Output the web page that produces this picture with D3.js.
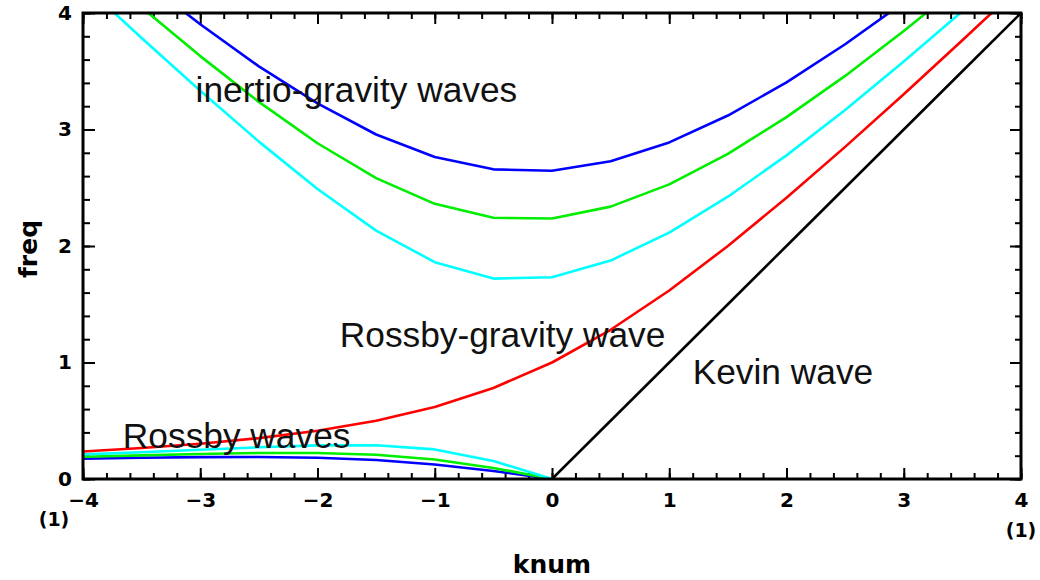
<!DOCTYPE html>
<html>
<head>
<meta charset="utf-8">
<script src="https://cdn.jsdelivr.net/npm/d3@7"></script>
<style>
  html, body { margin: 0; padding: 0; background: #fff; }
  svg { display: block; }
</style>
</head>
<body>
<svg id="chart" width="1040" height="580"></svg>
<script>
// ---- data ----
const knum = [-4, -3.5, -3, -2.5, -2, -1.5, -1, -0.5, 0, 0.5, 1, 1.5, 2, 2.5, 3, 3.5, 4];
// inertio-gravity waves n=1,2,3
const igN1 = [4.25, 3.785, 3.332, 2.896, 2.489, 2.132, 1.861, 1.72, 1.732, 1.875, 2.115, 2.423, 2.778, 3.168, 3.583, 4.015, 4.46];
const igN2 = [4.484, 4.048, 3.63, 3.237, 2.882, 2.583, 2.362, 2.242, 2.236, 2.338, 2.529, 2.791, 3.106, 3.46, 3.845, 4.251, 4.675];
const igN3 = [4.706, 4.294, 3.903, 3.542, 3.224, 2.957, 2.764, 2.658, 2.646, 2.727, 2.889, 3.12, 3.404, 3.732, 4.091, 4.475, 4.88];
// Rossby-gravity wave
const rgWave = [0.236, 0.266, 0.303, 0.351, 0.414, 0.5, 0.618, 0.781, 1.0, 1.281, 1.618, 2.0, 2.414, 2.851, 3.303, 3.766, 4.236];
// Rossby waves (k <= 0 only)
const knumR = [-4, -3.5, -3, -2.5, -2, -1.5, -1, -0.5, 0];
const rossN1 = [0.211, 0.230, 0.251, 0.272, 0.289, 0.290, 0.254, 0.155, 0];
const rossN2 = [0.191, 0.203, 0.215, 0.223, 0.223, 0.208, 0.167, 0.095, 0];
const rossN3 = [0.174, 0.182, 0.188, 0.189, 0.182, 0.163, 0.125, 0.069, 0];
// Kelvin wave
const knumK = [0, 0.5, 1, 1.5, 2, 2.5, 3, 3.5, 4];
const kelvin = [0, 0.5, 1, 1.5, 2, 2.5, 3, 3.5, 4];

const xMajor = [-4, -3, -2, -1, 0, 1, 2, 3, 4];
const yMajor = [0, 1, 2, 3, 4];
const xMinor = d3.range(-40, 41, 2).map(v => v / 10);
const yMinor = d3.range(0, 41, 2).map(v => v / 10);

const labels = [
  { text: "inertio-gravity waves", k: -3.04, f: 3.236 },
  { text: "Rossby-gravity wave", k: -1.81, f: 1.133 },
  { text: "Kevin wave", k: 1.2, f: 0.815 },
  { text: "Rossby waves", k: -3.66, f: 0.266 }
];

// ---- layout ----
const L = 83, R = 1021, T = 13, B = 479;
const svg = d3.select("#chart");
const x = d3.scaleLinear().domain([-4, 4]).range([L, R]);
const y = d3.scaleLinear().domain([0, 4]).range([B, T]);

svg.append("defs").append("clipPath").attr("id", "plotclip")
  .append("rect").attr("x", L).attr("y", T).attr("width", R - L).attr("height", B - T);

const tickFont = "'DejaVu Sans', sans-serif";

function styleAxis(g, labelsOn) {
  g.select(".domain").remove();
  g.selectAll(".tick line").attr("stroke", "#000").attr("stroke-width", 2);
  g.selectAll(".tick text")
    .attr("font-family", tickFont).attr("font-weight", "bold")
    .attr("font-size", 20).attr("fill", "#000");
  if (!labelsOn) g.selectAll(".tick text").remove();
}

// minor ticks
svg.append("g").attr("transform", `translate(0,${B})`)
  .call(d3.axisBottom(x).tickValues(xMinor).tickSize(-6).tickFormat(""))
  .call(g => styleAxis(g, false));
svg.append("g").attr("transform", `translate(0,${T})`)
  .call(d3.axisTop(x).tickValues(xMinor).tickSize(-6).tickFormat(""))
  .call(g => styleAxis(g, false));
svg.append("g").attr("transform", `translate(${L},0)`)
  .call(d3.axisLeft(y).tickValues(yMinor).tickSize(-7).tickFormat(""))
  .call(g => styleAxis(g, false));
svg.append("g").attr("transform", `translate(${R},0)`)
  .call(d3.axisRight(y).tickValues(yMinor).tickSize(-6).tickFormat(""))
  .call(g => styleAxis(g, false));

// major ticks
svg.append("g").attr("transform", `translate(0,${B})`)
  .call(d3.axisBottom(x).tickValues(xMajor).tickSize(-11).tickPadding(14).tickFormat(d3.format("d")))
  .call(g => styleAxis(g, true));
svg.append("g").attr("transform", `translate(0,${T})`)
  .call(d3.axisTop(x).tickValues(xMajor).tickSize(-11).tickFormat(""))
  .call(g => styleAxis(g, false));
svg.append("g").attr("transform", `translate(${L},0)`)
  .call(d3.axisLeft(y).tickValues(yMajor).tickSize(-12).tickPadding(11).tickFormat(d3.format("d")))
  .call(g => styleAxis(g, true));
svg.append("g").attr("transform", `translate(${R},0)`)
  .call(d3.axisRight(y).tickValues(yMajor).tickSize(-11).tickFormat(""))
  .call(g => styleAxis(g, false));

// curves
const line = d3.line().x(d => x(d[0])).y(d => y(d[1]));
const plot = svg.append("g").attr("clip-path", "url(#plotclip)");
const series = [
  { k: knum, v: igN3, c: "#0000ff" },
  { k: knum, v: igN2, c: "#00ee00" },
  { k: knum, v: igN1, c: "#00ffff" },
  { k: knumR, v: rossN3, c: "#0000ff" },
  { k: knumR, v: rossN2, c: "#00ee00" },
  { k: knumR, v: rossN1, c: "#00ffff" },
  { k: knum, v: rgWave, c: "#ff0000" },
  { k: knumK, v: kelvin, c: "#000000" }
];
series.forEach(s => {
  plot.append("path")
    .datum(s.k.map((k, i) => [k, s.v[i]]))
    .attr("d", line)
    .attr("fill", "none")
    .attr("stroke", s.c)
    .attr("stroke-width", 2.6)
    .attr("stroke-linejoin", "round");
});

// frame
svg.append("rect").attr("x", L).attr("y", T).attr("width", R - L).attr("height", B - T)
  .attr("fill", "none").attr("stroke", "#000").attr("stroke-width", 3);

// annotations
svg.append("g").selectAll("text").data(labels).join("text")
  .attr("x", d => x(d.k)).attr("y", d => y(d.f))
  .attr("font-family", "'Liberation Sans', Arial, sans-serif")
  .attr("font-size", 35.3).attr("fill", "#111")
  .text(d => d.text);

// "(1)" scale markers
svg.append("text").attr("x", 54).attr("y", 526).attr("text-anchor", "middle")
  .attr("font-family", tickFont).attr("font-weight", "bold").attr("font-size", 19).text("(1)");
svg.append("text").attr("x", 1021).attr("y", 537).attr("text-anchor", "middle")
  .attr("font-family", tickFont).attr("font-weight", "bold").attr("font-size", 19).text("(1)");

// axis titles
svg.append("text").attr("x", 552).attr("y", 573).attr("text-anchor", "middle")
  .attr("font-family", tickFont).attr("font-weight", "bold").attr("font-size", 25).text("knum");
svg.append("text").attr("transform", "translate(37,249) rotate(-90)").attr("text-anchor", "middle")
  .attr("font-family", tickFont).attr("font-weight", "bold").attr("font-size", 25).text("freq");
</script>
</body>
</html>
